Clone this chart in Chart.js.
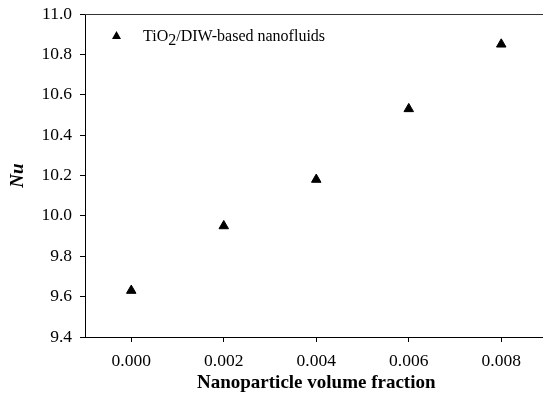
<!DOCTYPE html>
<html>
<head>
<meta charset="utf-8">
<script src="https://cdn.jsdelivr.net/npm/chart.js@4.4.1/dist/chart.umd.min.js"></script>
<style>
  html, body { margin: 0; padding: 0; background: #fff; overflow: hidden; }
</style>
</head>
<body>
<canvas id="nuChart" width="554" height="393"></canvas>
<script>
// data
const volumeFraction = [0.000, 0.002, 0.004, 0.006, 0.008]
const nusselt = [9.63, 9.95, 10.18, 10.53, 10.85]
const xTicks = [0.000, 0.002, 0.004, 0.006, 0.008]
const yTicks = [9.4, 9.6, 9.8, 10.0, 10.2, 10.4, 10.6, 10.8, 11.0]

const SERIF = '"Liberation Serif", "Times New Roman", serif'

// legend with a real subscript + the top frame line
const extras = {
    id: 'extras',
    afterDraw(chart) {
        const ctx = chart.ctx
        const area = chart.chartArea
        ctx.save()
        ctx.strokeStyle = '#333'
        ctx.lineWidth = 1
        ctx.beginPath()
        ctx.moveTo(area.left, area.top + 0.5)
        ctx.lineTo(area.right, area.top + 0.5)
        ctx.stroke()

        // legend marker
        ctx.fillStyle = '#000'
        ctx.beginPath()
        ctx.moveTo(116.5, 31)
        ctx.lineTo(121, 39)
        ctx.lineTo(112, 39)
        ctx.closePath()
        ctx.fill()

        ctx.textBaseline = 'alphabetic'
        ctx.font = '16px ' + SERIF
        let x = 143
        const y = 41
        ctx.fillText('TiO', x, y)
        x += ctx.measureText('TiO').width
        ctx.fillText('2', x, y + 4)
        x += ctx.measureText('2').width
        ctx.fillText('/DIW-based nanofluids', x, y)
        ctx.restore()
    }
}

new Chart(document.getElementById('nuChart'), {
    type: 'scatter',
    data: {
        datasets: [{
            label: 'TiO2/DIW-based nanofluids',
            data: volumeFraction.map((v, i) => ({ x: v, y: nusselt[i] })),
            pointStyle: 'triangle',
            pointRadius: 5.5,
            pointBorderWidth: 1,
            backgroundColor: '#000',
            borderColor: '#000'
        }]
    },
    options: {
        responsive: false,
        animation: false,
        layout: { padding: { top: 14, right: 0, left: 0, bottom: 0 } },
        plugins: { legend: { display: false }, tooltip: { enabled: false } },
        scales: {
            x: {
                type: 'linear',
                min: -0.001,
                max: 0.009,
                afterBuildTicks: s => { s.ticks = xTicks.map(v => ({ value: v })) },
                afterFit: s => { s.height = 56; s.paddingLeft = 0; s.paddingRight = 0 },
                border: { display: true, color: '#000', width: 1 },
                grid: { drawOnChartArea: false, drawTicks: true, tickLength: 5, color: '#000' },
                ticks: {
                    color: '#000',
                    padding: 9,
                    maxRotation: 0,
                    font: { family: SERIF, size: 17.5 },
                    callback: v => v.toFixed(3)
                },
                title: {
                    display: true,
                    text: 'Nanoparticle volume fraction',
                    color: '#000',
                    padding: { top: 0, bottom: 0 },
                    font: { family: SERIF, size: 19, weight: 'bold', lineHeight: 1 }
                }
            },
            y: {
                min: 9.4,
                max: 11.0,
                afterBuildTicks: s => { s.ticks = yTicks.map(v => ({ value: v })) },
                afterFit: s => { s.width = 85; s.paddingTop = 0; s.paddingBottom = 0 },
                border: { display: true, color: '#000', width: 1 },
                grid: { drawOnChartArea: false, drawTicks: true, tickLength: 5, color: '#000' },
                ticks: {
                    color: '#000',
                    padding: 8,
                    font: { family: SERIF, size: 17.5 },
                    callback: v => v.toFixed(1)
                },
                title: {
                    display: true,
                    text: 'Nu',
                    color: '#000',
                    padding: { top: 9, bottom: 0 },
                    font: { family: SERIF, size: 19, weight: 'bold', style: 'italic', lineHeight: 1 }
                }
            }
        }
    },
    plugins: [extras]
})
</script>
</body>
</html>
